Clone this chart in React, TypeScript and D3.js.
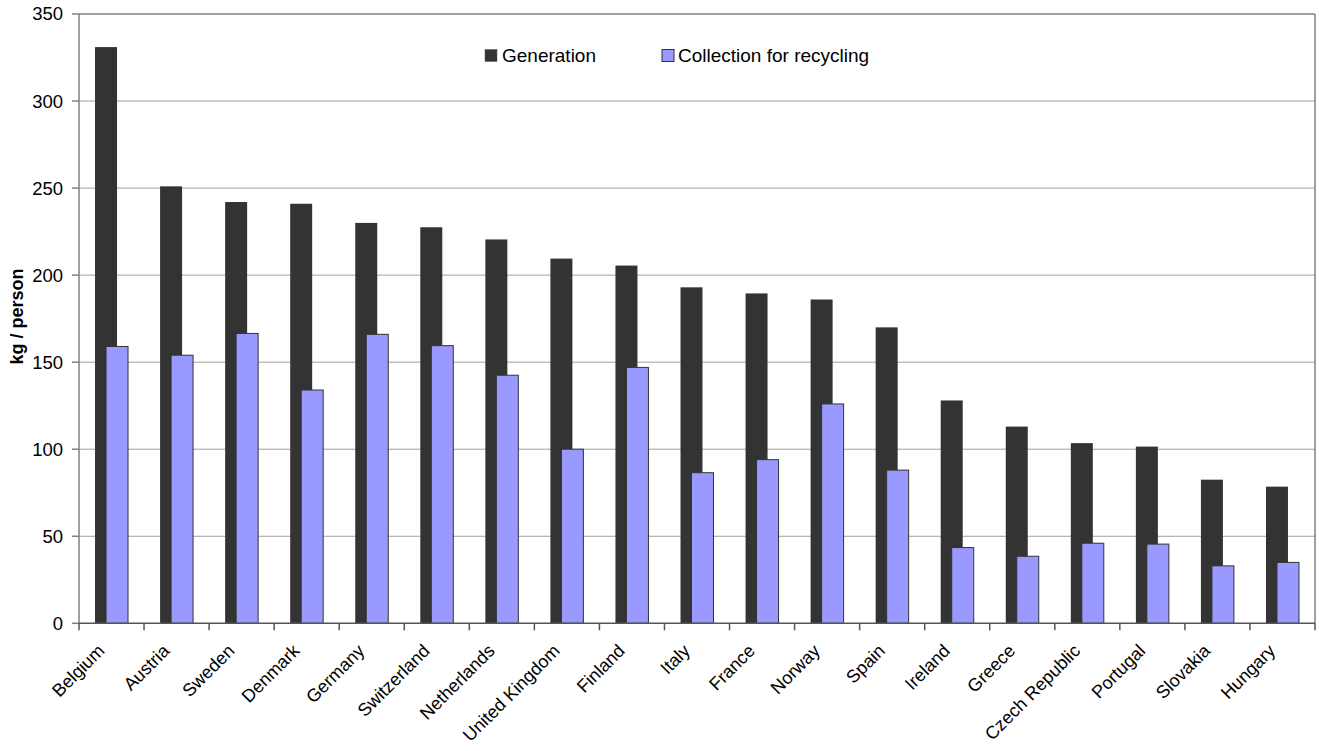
import React from "react";
import * as d3 from "d3";

const countries = ["Belgium", "Austria", "Sweden", "Denmark", "Germany", "Switzerland", "Netherlands", "United Kingdom", "Finland", "Italy", "France", "Norway", "Spain", "Ireland", "Greece", "Czech Republic", "Portugal", "Slovakia", "Hungary"];
const generation = [331, 251, 242, 241, 230, 227.5, 220.5, 209.5, 205.5, 193, 189.5, 186, 170, 128, 113, 103.5, 101.5, 82.5, 78.5];
const collection = [159, 154, 166.5, 134, 166, 159.5, 142.5, 100, 147, 86.5, 94, 126, 88, 43.5, 38.5, 46, 45.5, 33, 35];
const yTicks = [0, 50, 100, 150, 200, 250, 300, 350];
const seriesNames = ["Generation", "Collection for recycling"];
const colors = ["#333333", "#9999ff"];

const W = 1319, H = 751;
const left = 79, right = 1315, top = 14, bottom = 623.3;
const font = "'Liberation Sans', Arial, sans-serif";

export default function App() {
  const x = d3.scaleBand<string>().domain(countries).range([left, right]).padding(0);
  const y = d3.scaleLinear().domain([0, 350]).range([bottom, top]);
  const bw = x.bandwidth();
  const barW = bw * 0.338;
  const off = (bw - 1.5 * barW) / 2;
  const boundaries = countries.map((c) => x(c) as number).concat([right]);

  return (
    <svg width={W} height={H} style={{ position: "absolute", left: 0, top: 0, background: "#fff" }} fontFamily={font}>
      {yTicks.filter((t) => t > 0 && t < 350).map((t) => (
        <line key={t} x1={left} x2={right} y1={y(t)} y2={y(t)} stroke="#a0a0a0" strokeWidth={1} />
      ))}
      <line x1={left} x2={right} y1={top} y2={top} stroke="#808080" strokeWidth={1.5} />
      <line x1={right} x2={right} y1={top} y2={bottom} stroke="#808080" strokeWidth={1.5} />
      {countries.map((c, i) => (
        <g key={c}>
          <rect x={(x(c) as number) + off} y={y(generation[i])} width={barW} height={y(0) - y(generation[i])} fill={colors[0]} />
          <rect x={(x(c) as number) + off + barW * 0.5} y={y(collection[i])} width={barW} height={y(0) - y(collection[i])} fill={colors[1]} stroke="#333333" strokeWidth={1} />
        </g>
      ))}
      <line x1={left} x2={left} y1={top} y2={bottom} stroke="#808080" strokeWidth={1.5} />
      <line x1={left} x2={right} y1={bottom} y2={bottom} stroke="#555555" strokeWidth={1.5} />
      {yTicks.map((t) => (
        <g key={t}>
          <line x1={left - 7} x2={left} y1={y(t)} y2={y(t)} stroke="#808080" strokeWidth={1.5} />
          <text x={63} y={y(t)} dy="0.35em" textAnchor="end" fontSize={18.5} fill="#000">{t}</text>
        </g>
      ))}
      {boundaries.map((bx, i) => (
        <line key={i} x1={bx} x2={bx} y1={bottom} y2={bottom + 7} stroke="#555555" strokeWidth={1.5} />
      ))}
      {countries.map((c) => {
        const cx = (x(c) as number) + bw / 2 - 6;
        return (
          <text key={c} transform={`translate(${cx},652) rotate(-45)`} textAnchor="end" fontSize={18} fill="#000">{c}</text>
        );
      })}
      <text transform={`translate(23,316.5) rotate(-90)`} textAnchor="middle" fontSize={18} fontWeight="bold" fill="#000">kg / person</text>
      <rect x={485} y={49.5} width={12} height={12} fill={colors[0]} stroke="#555" strokeWidth={0.5} />
      <text x={502} y={61.5} fontSize={19} fill="#000">{seriesNames[0]}</text>
      <rect x={662} y={49.5} width={12} height={12} fill={colors[1]} stroke="#333" strokeWidth={1} />
      <text x={678} y={61.5} fontSize={19} fill="#000">{seriesNames[1]}</text>
    </svg>
  );
}
